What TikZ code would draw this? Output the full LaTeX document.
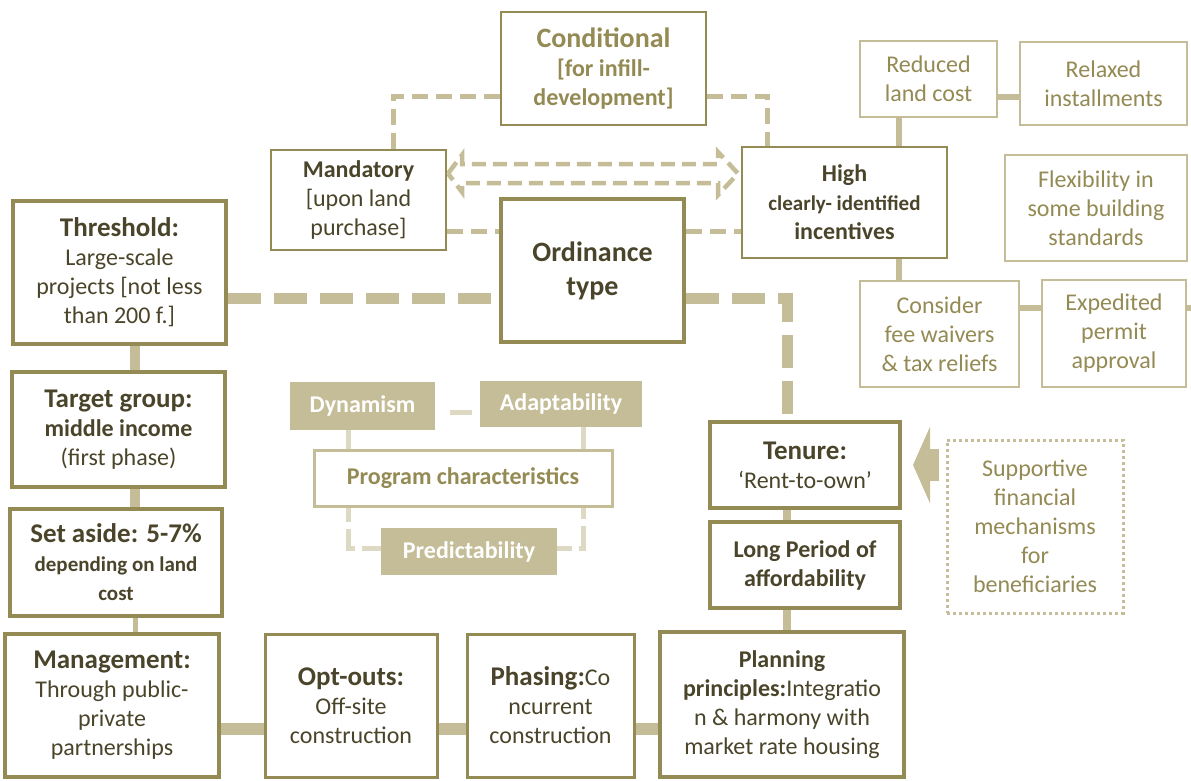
\documentclass[tikz,border=0pt]{standalone}
\usepackage{fontspec}
\setmainfont{Carlito}
\usepackage{tikz}
\usetikzlibrary{backgrounds}
\usetikzlibrary{arrows.meta}
\usepackage{xcolor}
\definecolor{ColA}{RGB}{148,138,84}
\definecolor{ColB}{RGB}{196,189,151}
\definecolor{ColC}{RGB}{221,217,195}
\definecolor{ColT}{RGB}{74,69,42}
\newcommand\FontBody{\fontsize{24}{29}\selectfont}
\newcommand\FontHead{\fontsize{27}{31}\selectfont}
\newcommand\FontSmall{\fontsize{21}{27}\selectfont}
\newcommand\FontBig{\fontsize{28}{34}\selectfont}
\tikzstyle{NodeMain}=[draw=ColA,line width=2.5pt,fill=white,text=ColT,align=center,
inner sep=2pt,font=\FontBody]
\tikzstyle{NodeThick}=[NodeMain,line width=4pt]
\tikzstyle{NodeLight}=[draw=ColB,line width=2.5pt,fill=white,text=ColA,align=center,
inner sep=2pt,font=\FontBody]
\tikzstyle{NodeDotted}=[NodeLight,line width=3pt,dash pattern=on 3pt off 3pt]
\tikzstyle{NodeFill}=[fill=ColB,text=white,inner sep=2pt,font=\FontBody\bfseries]
\tikzstyle{EdgeDash}=[ColB,line width=5pt,dash pattern=on 16pt off 8pt]
\tikzstyle{EdgeDashThick}=[ColB,line width=11pt,dash pattern=on 33pt off 13pt]
\tikzstyle{EdgeSolid}=[ColB,line width=6pt]
\tikzstyle{EdgeBar}=[ColB,line width=10pt]
\tikzstyle{EdgePale}=[ColC,line width=5pt,dash pattern=on 26pt off 7pt]

\begin{document}
\begin{tikzpicture}[x=1pt,y=-1pt]
        \useasboundingbox (0,0) rectangle (1191,780);
        % ordinance type and its options
        \node[NodeMain,text=ColA,font=\FontBody\bfseries,minimum width=205pt,minimum height=113pt](cond)at(603.5,68.5){{\FontBig Conditional}\\{[}for infill-\\development{]}};
        \node[NodeMain,minimum width=175pt,minimum height=100pt](mand)at(358.5,200){\textbf{Mandatory}\\{[}upon land\\purchase{]}};
        \node[NodeMain,font=\FontBody\bfseries,minimum width=205pt,minimum height=111pt](high)at(844.5,202.5){High\\{\FontSmall clearly- identified}\\incentives};
        \node[NodeThick,font=\FontBig\bfseries,minimum width=183pt,minimum height=143pt](ord)at(592.5,270.5){Ordinance\\type};
        % incentives
        \node[NodeLight,minimum width=137pt,minimum height=76pt](red)at(928.5,79){Reduced\\land cost};
        \node[NodeLight,minimum width=167pt,minimum height=83pt](rel)at(1103.5,83.5){Relaxed\\installments};
        \node[NodeLight,minimum width=182pt,minimum height=106pt](flex)at(1096,208){Flexibility in\\some building\\standards};
        \node[NodeLight,minimum width=159pt,minimum height=106pt](cons)at(939.5,334){Consider\\fee waivers\\\& tax reliefs};
        \node[NodeLight,minimum width=144pt,minimum height=107pt](exp)at(1114,333.5){Expedited\\permit\\approval};
        \coordinate(edgeR)at(1191,308);
        % left column
        \node[NodeThick,minimum width=213pt,minimum height=143pt](thr)at(119.5,272.5){{\FontHead\bfseries Threshold:}\\Large-scale\\projects {[}not less\\than 200 f.{]}};
        \node[NodeThick,minimum width=213pt,minimum height=115pt](tgt)at(118.5,429.5){{\FontHead\bfseries Target group:}\\\textbf{middle income}\\(first phase)};
        \node[NodeThick,font=\FontBody\bfseries,minimum width=212pt,minimum height=107pt](set)at(116,562.5){{\FontHead Set aside: 5-7\%}\\{\FontSmall depending on land}\\{\FontSmall cost}};
        % bottom row
        \node[NodeThick,minimum width=214pt,minimum height=143pt](mgmt)at(112,705.5){{\FontHead\bfseries Management:}\\Through public-\\private\\partnerships};
        \node[NodeMain,line width=3pt,minimum width=172pt,minimum height=143pt](opt)at(351,705.5){{\FontHead\bfseries Opt-outs:}\\Off-site\\construction};
        \node[NodeMain,line width=3pt,minimum width=167pt,minimum height=143pt](phas)at(550.5,705.5){{\FontHead\bfseries Phasing:}Co\\ncurrent\\construction};
        \node[NodeThick,minimum width=244pt,minimum height=145pt](plan)at(782,704.5){\textbf{Planning}\\\textbf{principles:}Integratio\\n \& harmony with\\market rate housing};
        % right column
        \node[NodeThick,minimum width=190pt,minimum height=86pt](ten)at(805,465){{\FontHead\bfseries Tenure:}\\‘Rent-to-own’};
        \node[NodeThick,font=\FontBody\bfseries,minimum width=190pt,minimum height=86pt](long)at(805,565){Long Period of\\affordability};
        \node[NodeDotted,minimum width=176pt,minimum height=173pt](supp)at(1035,526.5){Supportive\\financial\\mechanisms\\for\\beneficiaries};
        % program characteristics
        \node[NodeFill,minimum width=145pt,minimum height=48pt](dyn)at(362.5,406){Dynamism};
        \node[NodeFill,minimum width=162pt,minimum height=46pt](adap)at(561,404){Adaptability};
        \node[NodeLight,line width=3pt,font=\FontBody\bfseries,minimum width=298pt,minimum height=56pt](prog)at(463,478){Program characteristics};
        \node[NodeFill,minimum width=176pt,minimum height=47pt](pred)at(469,551.5){Predictability};
        \begin{scope}[on background layer]
        \draw[EdgeDash]([xshift=34.5pt]mand.north)|-([yshift=-27.5pt]cond.west);
        \draw[EdgeDash]([yshift=-27.5pt]cond.east)-|([xshift=-77.5pt]high.north);
        \draw[EdgeDash]([yshift=-31pt]mand.east)--([yshift=-31pt]mand.east-|ord.west);
        \draw[EdgeDash]([yshift=39.5pt]ord.east)--([yshift=39.5pt]ord.east-|high.west);
        \draw[EdgeDash,line width=4.5pt,dash pattern=on 14pt off 7pt,line join=miter](448,173.5)--(462,155)--(462,164)--(718,164)--(718,152)--(738,173.5)--(718,195)--(718,183)--(462,183)--(462,192)--cycle;
        \draw[EdgeDashThick]([yshift=-25.5pt]thr.east)--([yshift=-25.5pt]thr.east-|ord.west);
        \draw[EdgeDashThick]([yshift=-27.5pt]ord.east)-|([xshift=-18pt]ten.north);
        \draw[EdgeSolid]([xshift=-29.5pt]red.south)--([xshift=-29.5pt]red.south|-high.north);
        \draw[EdgeSolid]([yshift=-18pt]red.east)--([yshift=-18pt]red.east-|rel.west);
        \draw[EdgeSolid]([xshift=54.5pt]high.south)--([xshift=54.5pt]high.south|-cons.north);
        \draw[EdgeSolid]([yshift=26pt]cons.east)--([yshift=26pt]cons.east-|exp.west);
        \draw[EdgeSolid](exp.east|-edgeR)--(edgeR);
        \draw[EdgeBar]([xshift=15.5pt]thr.south)--([xshift=15.5pt]thr.south|-tgt.north);
        \draw[EdgeBar]([xshift=16.5pt]tgt.south)--([xshift=16.5pt]tgt.south|-set.north);
        \draw[EdgeBar,line width=5pt]([xshift=19pt]set.south)--([xshift=19pt]set.south|-mgmt.north);
        \draw[EdgeBar,line width=12pt]([yshift=-23pt]mgmt.east)--([yshift=-23pt]mgmt.east-|opt.west);
        \draw[EdgeBar,line width=12pt]([yshift=-23pt]opt.east)--([yshift=-23pt]opt.east-|phas.west);
        \draw[EdgeBar,line width=12pt]([yshift=-23pt]phas.east)--([yshift=-23pt]phas.east-|plan.west);
        \draw[EdgeBar,line width=8pt]([xshift=-18pt]ten.south)--([xshift=-18pt]ten.south|-long.north);
        \draw[EdgeBar,line width=8pt]([xshift=-18pt]long.south)--([xshift=-18pt]long.south|-plan.north);
        \draw[EdgePale,shorten <=15pt,shorten >=8pt]([yshift=-6pt]dyn.east)--([yshift=-6pt]dyn.east-|adap.west);
        \draw[EdgePale]([xshift=-14.5pt]dyn.south)|-([yshift=3.5pt]pred.west);
        \draw[EdgePale]([xshift=22pt]adap.south)|-([yshift=3.5pt]pred.east);
        \end{scope}
        \draw[ColB,line width=32pt,-{Triangle[length=17pt,width=76pt]}]([xshift=-7pt]supp.west|-ten.east)--([xshift=11pt]ten.east);
    \end{tikzpicture}
\end{document}
